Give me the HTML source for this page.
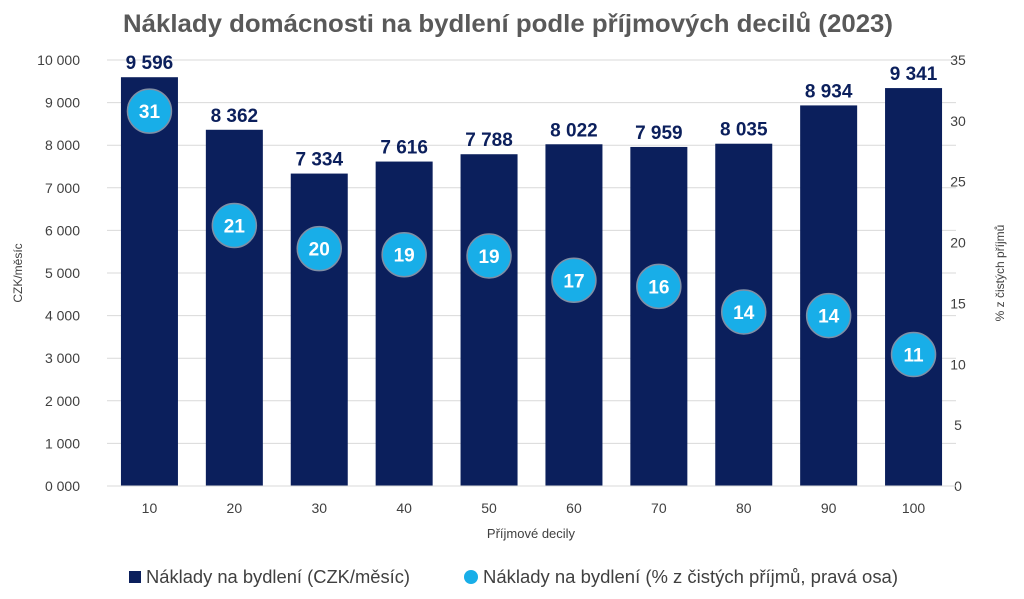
<!DOCTYPE html>
<html><head><meta charset="utf-8"><style>
body{margin:0;background:#fff;}
svg{display:block;font-family:"Liberation Sans",sans-serif;}
</style></head><body>
<svg id="c" width="1024" height="599" xmlns="http://www.w3.org/2000/svg">
<text x="508" y="32" text-anchor="middle" font-size="25" font-weight="bold" fill="#595959" textLength="770" lengthAdjust="spacingAndGlyphs">Náklady domácnosti na bydlení podle příjmových decilů (2023)</text>
<g id="grid"></g><g id="bars"></g><g id="dots"></g><g id="axes"></g>
<text x="22" y="273" transform="rotate(-90 22 273)" text-anchor="middle" font-size="12" fill="#404040">CZK/měsíc</text>
<text x="1004" y="273" transform="rotate(-90 1004 273)" text-anchor="middle" font-size="12" fill="#404040">% z čistých příjmů</text>
<text x="531" y="538" text-anchor="middle" font-size="13" fill="#404040">Příjmové decily</text>
<g>
<rect x="129" y="571" width="12" height="12" fill="#0b1f5c"/>
<text x="146" y="583" font-size="18" fill="#404040" textLength="264" lengthAdjust="spacingAndGlyphs">Náklady na bydlení (CZK/měsíc)</text>
<circle cx="471" cy="577" r="7" fill="#18aee8"/>
<text x="483" y="583" font-size="18" fill="#404040" textLength="415" lengthAdjust="spacingAndGlyphs">Náklady na bydlení (% z čistých příjmů, pravá osa)</text>
</g>
</svg>
<script>
const categories=["10","20","30","40","50","60","70","80","90","100"];
const costs=[9596,8362,7334,7616,7788,8022,7959,8035,8934,9341];
const shares=[30.8,21.4,19.5,19.0,18.9,16.9,16.4,14.3,14.0,10.8];
const shareLabels=["31","21","20","19","19","17","16","14","14","11"];
const leftTicks=[0,1000,2000,3000,4000,5000,6000,7000,8000,9000,10000];
const rightTicks=[0,5,10,15,20,25,30,35];
const NS="http://www.w3.org/2000/svg";
const y0=486,yTop=60,x0=107,step=84.9,bw=57;
const yL=v=>y0-(v/10000)*(y0-yTop);
const yR=v=>y0-(v/35)*(y0-yTop);
const xC=i=>x0+step*(i+0.5);
function mk(tag,attrs,parent,txt){const e=document.createElementNS(NS,tag);for(const k in attrs)e.setAttribute(k,attrs[k]);if(txt!==undefined)e.textContent=txt;document.getElementById(parent).appendChild(e);return e;}
const fmt=v=>{const s=String(v);return s.length>3?s.slice(0,-3)+" "+s.slice(-3):"0 "+s.padStart(3,"0");};
leftTicks.forEach(t=>{
 const l=mk("line",{x1:x0,x2:x0+step*10,y1:yL(t),y2:yL(t),stroke:"#d9d9d9","stroke-width":1},"grid");
 
 
 const tx=mk("text",{x:80,y:yL(t)+5,"text-anchor":"end","font-size":14,fill:"#404040"},"axes",t===0?"0 000":fmt(t));
 
 
});
rightTicks.forEach(t=>{
 const tx=mk("text",{x:958,y:yR(t)+5,"text-anchor":"middle","font-size":14,fill:"#404040"},"axes",String(t));
 
 
});
categories.forEach((c,i)=>{
 const cx=xC(i);
 const r=mk("rect",{x:cx-bw/2,y:yL(costs[i]),width:bw,height:y0-yL(costs[i]),fill:"#0b1f5c"},"bars");
 
 
 const v=mk("text",{x:cx,y:yL(costs[i])-8,"text-anchor":"middle","font-size":19,"font-weight":"bold",fill:"#0b1f5c"},"bars",fmt(costs[i]));
 
 
 const xl=mk("text",{x:cx,y:513,"text-anchor":"middle","font-size":14,fill:"#404040"},"axes",c);
 
 
 const d=mk("circle",{cx:cx,cy:yR(shares[i]),r:22,fill:"#18aee8",stroke:"#7f8fa6","stroke-width":1.5},"dots");
 
 
 const dl=mk("text",{x:cx,y:yR(shares[i])+7,"text-anchor":"middle","font-size":19,"font-weight":"bold",fill:"#fff"},"dots",shareLabels[i]);
 
 
});
const base=mk("line",{x1:x0,x2:x0+step*10,y1:y0,y2:y0,stroke:"#d9d9d9","stroke-width":1},"axes");


</script>
</body></html>
